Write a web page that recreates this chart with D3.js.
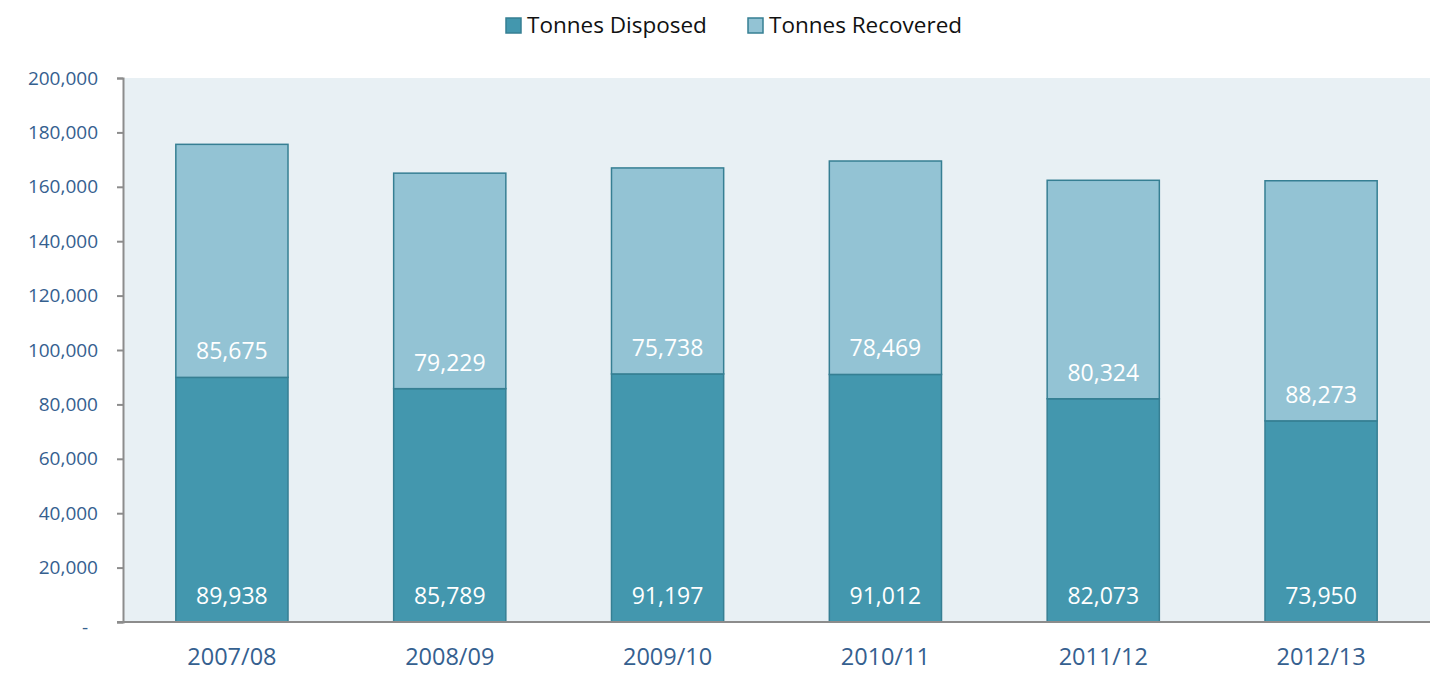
<!DOCTYPE html>
<html>
<head>
<meta charset="utf-8">
<script src="https://cdn.jsdelivr.net/npm/d3@7"></script>
<style>
  body { margin: 0; background: #fff; }
  svg text { font-family: "Open Sans", sans-serif; }
</style>
</head>
<body>
<svg id="chart" width="1438" height="673"></svg>
<script>
var years = ["2007/08", "2008/09", "2009/10", "2010/11", "2011/12", "2012/13"];
var disposed = [89938, 85789, 91197, 91012, 82073, 73950];
var recovered = [85675, 79229, 75738, 78469, 80324, 88273];
var seriesNames = ["Tonnes Disposed", "Tonnes Recovered"];
var yTicks = [0, 20000, 40000, 60000, 80000, 100000, 120000, 140000, 160000, 180000, 200000];

var colors = ["#4397AE", "#93C3D4"];
var strokeCol = "#367F93";
var tickCol = "#35608F";

var svg = d3.select("#chart");
var plotL = 123, plotR = 1430, plotT = 78, plotB = 622;

var x = d3.scaleBand().domain(years).range([plotL, plotR]).paddingInner(0.485).paddingOuter(0.2425);
var y = d3.scaleLinear().domain([0, 200000]).range([plotB, plotT]);

// plot background
svg.append("rect")
  .attr("x", plotL).attr("y", plotT)
  .attr("width", plotR - plotL).attr("height", plotB - plotT)
  .attr("fill", "#E8F0F4");

var rows = years.map(function (yr, i) {
  return { year: yr, disposed: disposed[i], recovered: recovered[i] };
});
var stack = d3.stack().keys(["disposed", "recovered"])(rows);

var fmt = d3.format(",");

stack.forEach(function (layer, li) {
  var g = svg.append("g");
  g.selectAll("rect").data(layer).enter().append("rect")
    .attr("x", function (d) { return x(d.data.year); })
    .attr("y", function (d) { return y(d[1]); })
    .attr("width", x.bandwidth())
    .attr("height", function (d) { return y(d[0]) - y(d[1]); })
    .attr("fill", colors[li])
    .attr("stroke", strokeCol)
    .attr("stroke-width", 1.5);

  g.selectAll("text").data(layer).enter().append("text")
    .attr("x", function (d) { return x(d.data.year) + x.bandwidth() / 2; })
    .attr("y", function (d) { return y(d[0]) - 26; })
    .attr("dy", "0.35em")
    .attr("text-anchor", "middle")
    .attr("fill", "#fff")
    .attr("font-size", 23)
    .text(function (d) { return fmt(d[1] - d[0]); });
});

// y axis
var yAxis = d3.axisLeft(y).tickValues(yTicks).tickSize(6).tickPadding(19)
  .tickFormat(function (d) { return d === 0 ? "-" : fmt(d); });
var ya = svg.append("g").attr("transform", "translate(" + plotL + ",0)").call(yAxis);
ya.select(".domain").attr("stroke", "#8C8C8C").attr("stroke-width", 2);
ya.selectAll(".tick line").attr("stroke", "#8C8C8C").attr("stroke-width", 2);
ya.selectAll(".tick text").attr("fill", tickCol).attr("font-size", 19)
  .attr("font-family", "Open Sans, sans-serif");
ya.selectAll(".tick").filter(function (d) { return d === 0; }).select("text")
  .attr("x", -35).attr("dy", "0.6em");

// x axis
var xAxis = d3.axisBottom(x).tickSize(0).tickPadding(26);
var xa = svg.append("g").attr("transform", "translate(0," + plotB + ")").call(xAxis);
xa.select(".domain").attr("stroke", "#8C8C8C").attr("stroke-width", 2)
  .attr("d", "M" + (plotL - 6) + ",0H" + plotR);
xa.selectAll(".tick text").attr("fill", tickCol).attr("font-size", 23.5)
  .attr("font-family", "Open Sans, sans-serif");

// legend
var legX = [506, 748];
var leg = svg.append("g");
seriesNames.forEach(function (name, i) {
  leg.append("rect")
    .attr("x", legX[i]).attr("y", 18)
    .attr("width", 15).attr("height", 15)
    .attr("fill", colors[i])
    .attr("stroke", strokeCol).attr("stroke-width", 1.5);
  leg.append("text")
    .attr("x", legX[i] + 21).attr("y", 25)
    .attr("dy", "0.35em")
    .attr("font-size", 22.5)
    .attr("fill", "#111")
    .text(name);
});
</script>
</body>
</html>
